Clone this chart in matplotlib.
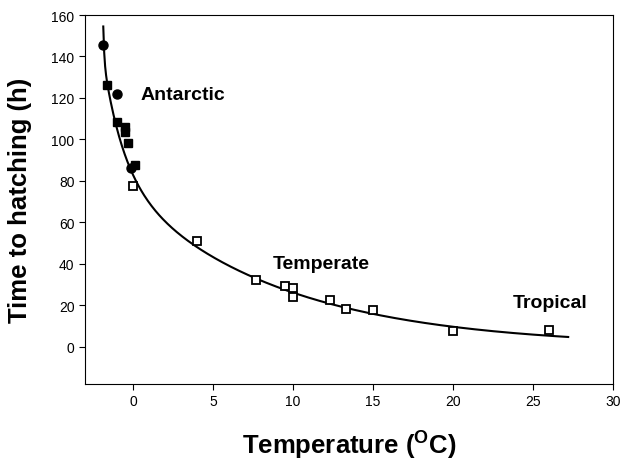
import matplotlib
matplotlib.use("Agg")
import matplotlib.pyplot as plt
import numpy as np

plt.rcParams['font.family'] = ['Liberation Sans', 'DejaVu Sans']
plt.rcParams['mathtext.fontset'] = 'custom'
plt.rcParams['mathtext.rm'] = 'Liberation Sans:bold'

# Antarctic filled circles
circ_x = [-1.86, -0.98, -0.14]
circ_y = [145.5, 122.0, 86.3]
# Antarctic filled squares
fsq_x = [-1.6, -0.98, -0.5, -0.5, -0.29, 0.12]
fsq_y = [126.3, 108.3, 105.9, 103.8, 98.3, 87.4]
# Temperate / tropical open squares
osq_x = [0.0, 3.98, 7.69, 9.5, 10.0, 10.0, 12.3, 13.3, 15.0, 20.0, 26.0]
osq_y = [77.4, 50.9, 32.3, 29.2, 28.3, 24.2, 22.3, 18.3, 17.8, 7.7, 8.2]
# fitted curve (positions)
fit_x = [-1.86, -1.75, -1.54, -1.125, -0.6, -0.19, 0.02, 0.65, 1.27, 2.52,
         3.98, 5.85, 7.52, 9.19, 10.44, 12.3, 15.0, 17.5, 20.0, 22.9, 26.0, 27.2]
fit_y = [154.5, 135.6, 123.5, 109.9, 96.2, 85.8, 81.0, 72.9, 64.9, 55.3,
         49.6, 40.8, 34.4, 29.5, 26.3, 21.5, 16.7, 11.9, 8.7, 6.3, 5.2, 4.5]

labels = ["Antarctic", "Temperate", "Tropical"]
label_x = [0.44, 8.75, 23.75]
label_y = [121.5, 40.0, 21.2]

# triple-exponential regression line through the read curve positions
fx = np.array(fit_x)
fy = np.array(fit_y)
best = None
for b3 in [3.0, 4.0, 5.0, 6.0, 8.0, 10.0, 13.0, 16.0]:
    for b in np.linspace(0.3, 2.5, 23):
        for d in np.linspace(0.05, 0.16, 12):
            A = np.column_stack([np.exp(-b3 * fx), np.exp(-b * fx), np.exp(-d * fx)])
            coef, *_ = np.linalg.lstsq(A, fy, rcond=None)
            err = np.sum((A @ coef - fy) ** 2)
            if best is None or err < best[0]:
                best = (err, (b3, b, d), coef)
_, rates, coef = best
xs = np.linspace(fx[0], fx[-1], 500)
ys = sum(c * np.exp(-r * xs) for c, r in zip(coef, rates))

fig = plt.figure(figsize=(6.22, 4.64), dpi=100)
ax = fig.add_axes([0.1367, 0.1703, 0.8488, 0.7952])

ax.plot(xs, ys, color='black', lw=1.5, zorder=2)
ax.plot(fsq_x, fsq_y, 's', color='black', ms=6, zorder=3)
ax.plot(circ_x, circ_y, 'o', color='black', ms=6.5, zorder=3)
ax.plot(osq_x, osq_y, 's', mfc='white', mec='black', mew=1.3, ms=6, zorder=3)

for t, x, y in zip(labels, label_x, label_y):
    ax.text(x, y, t, fontsize=14, fontweight='bold', ha='left', va='center')

ax.set_xlim(-3, 30)
ax.set_ylim(-18, 160)
ax.set_xticks(range(0, 31, 5))
ax.set_yticks(range(0, 161, 20))
ax.tick_params(direction='out', length=4, width=0.8, labelsize=10)
for s in ax.spines.values():
    s.set_linewidth(0.8)

ax.set_xlabel(r'Temperature ($\mathregular{^{O}}$C)', fontsize=18.5, fontweight='bold', labelpad=15)
ax.set_ylabel('Time to hatching (h)', fontsize=18.5, fontweight='bold', labelpad=14)

fig.savefig('out.png', dpi=100)
